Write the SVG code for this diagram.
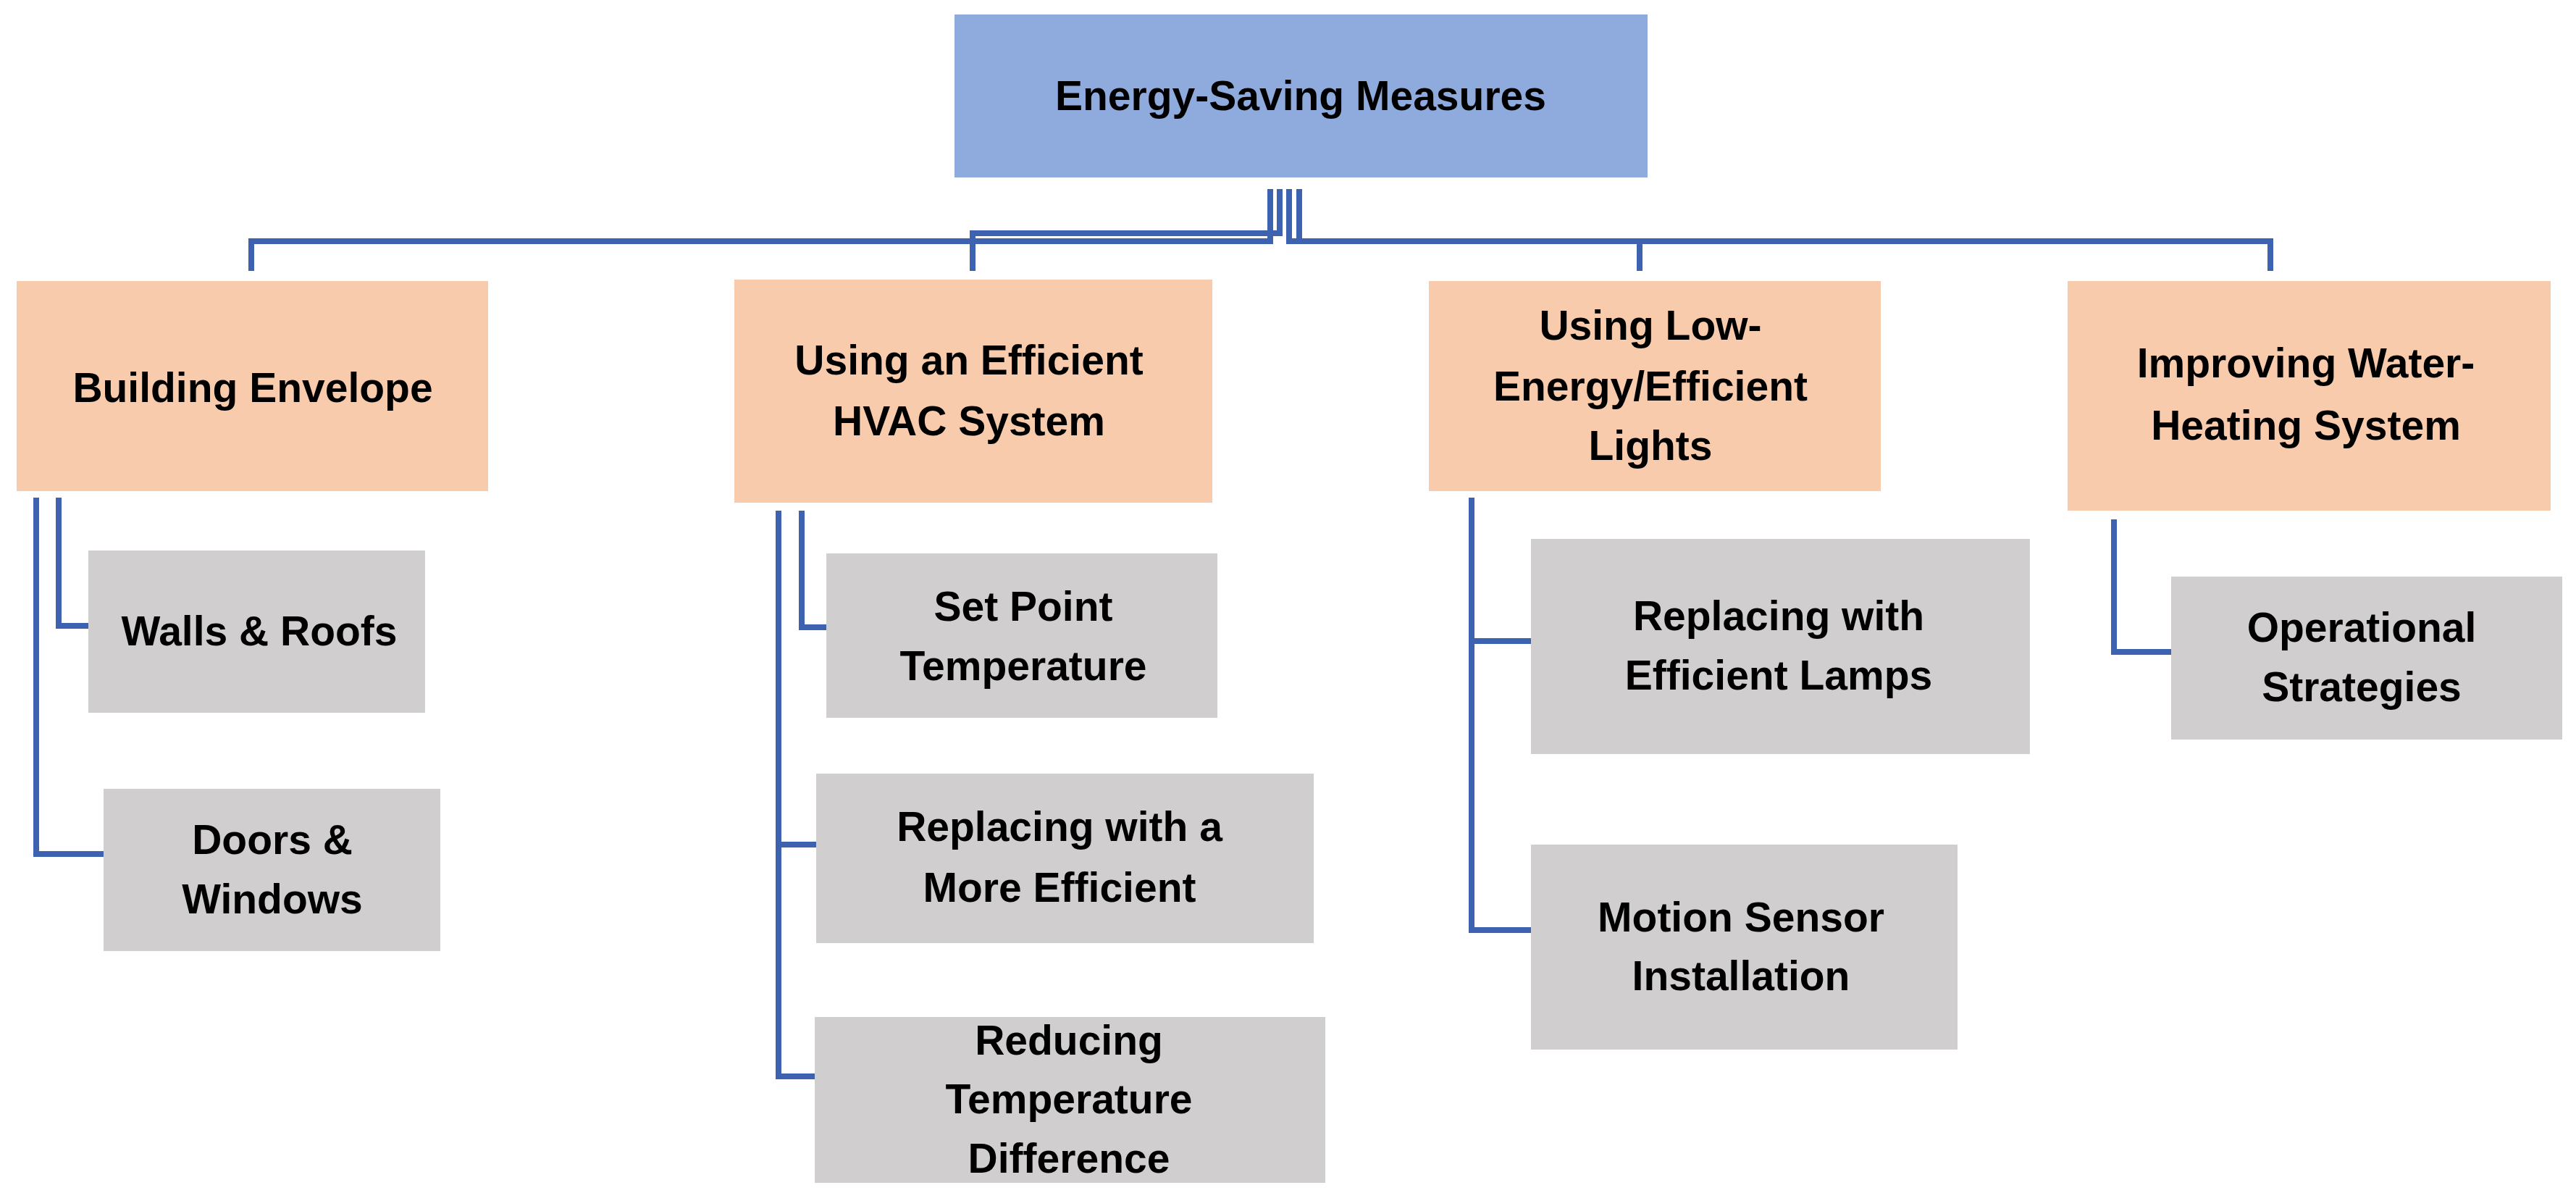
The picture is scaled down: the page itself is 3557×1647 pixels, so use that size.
<svg xmlns="http://www.w3.org/2000/svg" width="3557" height="1647" viewBox="0 0 3557 1647">
<style>
.root{fill:#8FAADC}.l1{fill:#F8CBAD}.l2{fill:#D0CECE}
text{font-family:"Liberation Sans",Arial,sans-serif;font-weight:bold;font-size:57px;fill:#000;text-anchor:middle}
.c{fill:none;stroke:#3C62B0;stroke-width:8}
</style>
<rect width="3557" height="1647" fill="#fff"/>
<g id="connectors">
<path class="c" d="M1754 261V333H347V374"/>
<path class="c" d="M1767 261V322H1343V374"/>
<path class="c" d="M1780 261V333H2264V374"/>
<path class="c" d="M1794 261V333H3135V374"/>
<path class="c" d="M81 687V864H122"/>
<path class="c" d="M50 687V1179H143"/>
<path class="c" d="M1107 705V866H1141"/>
<path class="c" d="M1075 705V1486H1125M1075 1166H1127"/>
<path class="c" d="M2032 687V1284H2114M2032 885H2114"/>
<path class="c" d="M2919 717V900H2998"/>
</g>
<g id="root"><rect class="root" x="1318" y="20" width="957" height="225"/><text x="1796" y="152">Energy-Saving Measures</text></g>
<g id="envelope"><rect class="l1" x="23" y="388" width="651" height="290"/><text x="349" y="555">Building Envelope</text></g>
<g id="hvac"><rect class="l1" x="1014" y="386" width="660" height="308"/><text x="1338" y="517">Using an Efficient</text><text x="1338" y="601">HVAC System</text></g>
<g id="lights"><rect class="l1" x="1973" y="388" width="624" height="290"/><text x="2279" y="469">Using Low-</text><text x="2279" y="553">Energy/Efficient</text><text x="2279" y="635">Lights</text></g>
<g id="water"><rect class="l1" x="2855" y="388" width="667" height="317"/><text x="3184" y="521">Improving Water-</text><text x="3184" y="607">Heating System</text></g>
<g id="walls"><rect class="l2" x="122" y="760" width="465" height="224"/><text x="358" y="891">Walls &amp; Roofs</text></g>
<g id="doors"><rect class="l2" x="143" y="1089" width="465" height="224"/><text x="376" y="1179">Doors &amp;</text><text x="376" y="1261">Windows</text></g>
<g id="setpoint"><rect class="l2" x="1141" y="764" width="540" height="227"/><text x="1413" y="857">Set Point</text><text x="1413" y="939">Temperature</text></g>
<g id="replacehvac"><rect class="l2" x="1127" y="1068" width="687" height="234"/><text x="1463" y="1161">Replacing with a</text><text x="1463" y="1245">More Efficient</text></g>
<g id="reducing"><rect class="l2" x="1125" y="1404" width="705" height="229"/><text x="1476" y="1456">Reducing</text><text x="1476" y="1537">Temperature</text><text x="1476" y="1619">Difference</text></g>
<g id="lamps"><rect class="l2" x="2114" y="744" width="689" height="297"/><text x="2456" y="870">Replacing with</text><text x="2456" y="952">Efficient Lamps</text></g>
<g id="motion"><rect class="l2" x="2114" y="1166" width="589" height="283"/><text x="2404" y="1286">Motion Sensor</text><text x="2404" y="1367">Installation</text></g>
<g id="operational"><rect class="l2" x="2998" y="796" width="540" height="225"/><text x="3261" y="886">Operational</text><text x="3261" y="968">Strategies</text></g>
</svg>
